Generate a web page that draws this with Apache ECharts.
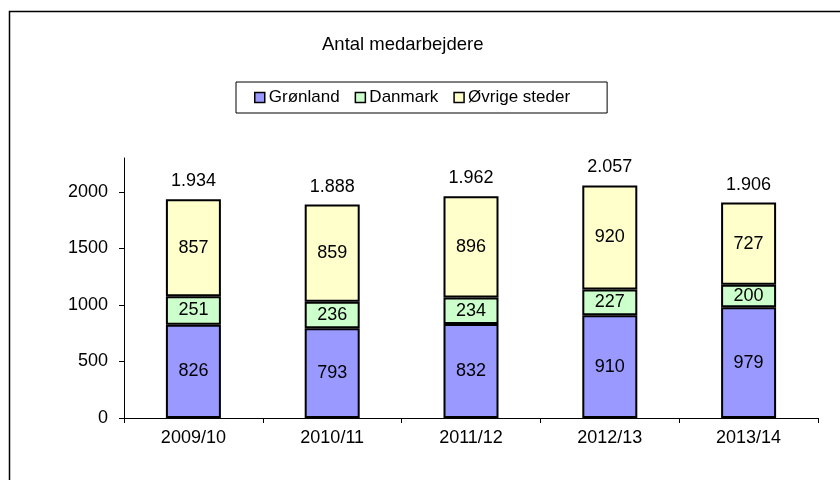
<!DOCTYPE html>
<html>
<head>
<meta charset="utf-8">
<title>Antal medarbejdere</title>
<script src="https://cdn.jsdelivr.net/npm/echarts@6/dist/echarts.min.js"></script>
<style>
  html, body { margin: 0; padding: 0; background: #fff; }
  #chart { width: 840px; height: 480px; }
</style>
</head>
<body>
<div id="chart"></div>
<script>
const categories = ["2009/10", "2010/11", "2011/12", "2012/13", "2013/14"];
const gronland = [826, 793, 832, 910, 979];
const danmark = [251, 236, 234, 227, 200];
const ovrige = [857, 859, 896, 920, 727];
const yTicks = [0, 500, 1000, 1500, 2000];

const FONT = '"Liberation Sans", Arial, sans-serif';

// totals shown above each bar, danish thousands separator
const totals = categories.map((c, i) => gronland[i] + danmark[i] + ovrige[i]);
const fmt = (v) => String(v).replace(/\B(?=(\d{3})+(?!\d))/g, ".");

const chart = echarts.init(document.getElementById("chart"));

function segment(name, data, color) {
  return {
    name: name,
    type: "bar",
    stack: "a",
    barWidth: 55,
    data: data,
    itemStyle: { color: color, borderColor: "#000", borderWidth: 2 },
    label: {
      show: true,
      position: "inside",
      color: "#000",
      fontFamily: FONT,
      fontSize: 18,
    },
  };
}

const option = {
  animation: false,
  backgroundColor: "#fff",
  textStyle: { fontFamily: FONT },
  title: {
    text: "Antal medarbejdere",
    left: 322,
    top: 35,
    padding: 0,
    textStyle: { fontFamily: FONT, fontSize: 18.5, fontWeight: "normal", color: "#000" },
  },
  legend: {
    data: ["Grønland", "Danmark", "Øvrige steder"],
    left: 236,
    top: 82,
    padding: [7, 37, 7, 18],
    itemGap: 15,
    itemWidth: 10,
    itemHeight: 10,
    icon: "rect",
    borderColor: "#000",
    borderWidth: 1,
    itemStyle: { borderColor: "#000", borderWidth: 1.5 },
    textStyle: { fontFamily: FONT, fontSize: 17, color: "#000", padding: [0, 0, 0, -1] },
  },
  grid: { left: 124, right: 22, top: 158, bottom: 62 },
  xAxis: {
    type: "category",
    data: categories,
    axisLine: { lineStyle: { color: "#000", width: 1 } },
    axisTick: { show: true, length: 5, lineStyle: { color: "#000" } },
    axisLabel: { color: "#000", fontFamily: FONT, fontSize: 18, margin: 11 },
  },
  yAxis: {
    type: "value",
    min: 0,
    max: 2300,
    interval: 500,
    splitLine: { show: false },
    axisLine: { show: true, lineStyle: { color: "#000", width: 1 } },
    axisTick: { show: true, length: 5, lineStyle: { color: "#000" }, customValues: yTicks },
    axisLabel: {
      color: "#000",
      fontFamily: FONT,
      fontSize: 18,
      margin: 16,
      customValues: yTicks,
      formatter: (v) => String(v),
    },
  },
  series: [
    segment("Grønland", gronland, "#9999FF"),
    segment("Danmark", danmark, "#CCFFCC"),
    segment("Øvrige steder", ovrige, "#FFFFCC"),
    {
      name: "Total",
      type: "bar",
      stack: "a",
      barWidth: 55,
      data: totals.map(() => 0),
      itemStyle: { color: "transparent", borderWidth: 0 },
      label: {
        show: true,
        position: "top",
        distance: 9,
        color: "#000",
        fontFamily: FONT,
        fontSize: 18,
        formatter: (p) => fmt(totals[p.dataIndex]),
      },
    },
  ],
  graphic: [
    {
      type: "rect",
      silent: true,
      shape: { x: 9.5, y: 11.5, width: 1000, height: 1000 },
      style: { fill: "none", stroke: "#000", lineWidth: 1.5 },
    },
  ],
};

chart.setOption(option);
</script>
</body>
</html>
